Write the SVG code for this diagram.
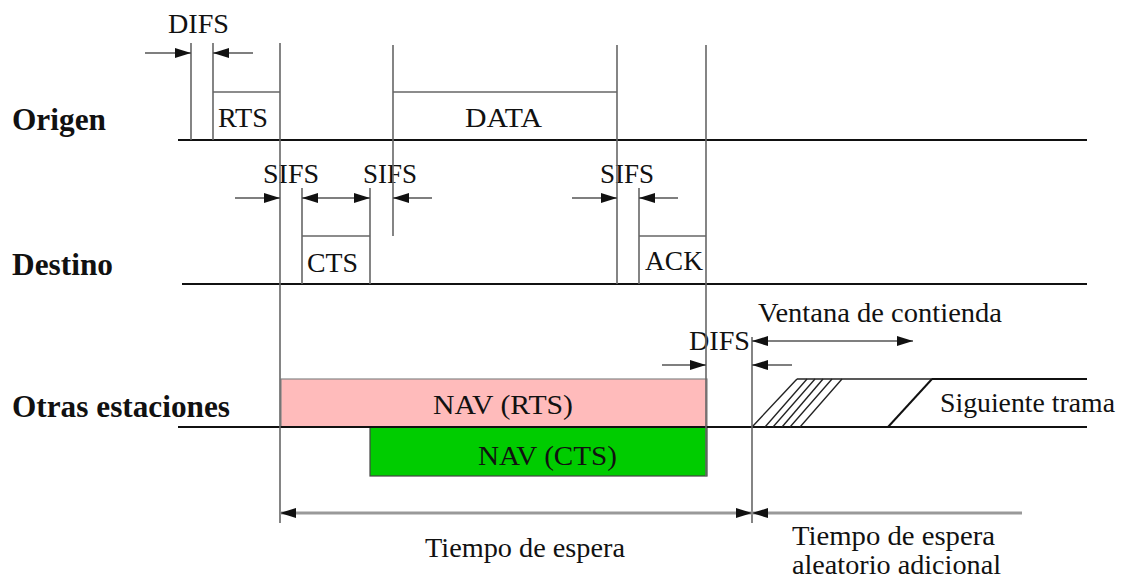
<svg xmlns="http://www.w3.org/2000/svg" width="1123" height="579" viewBox="0 0 1123 579">
<style>
text{font-family:"Liberation Serif","Tinos","Times New Roman","DejaVu Serif",serif;font-size:28px;fill:#111}
.lbl{font-weight:bold;font-size:31px}
.base{stroke:#111;stroke-width:2;fill:none}
.v{stroke:#666;stroke-width:1.6;fill:none}
.arr{stroke:#555;stroke-width:1.6;fill:none}
.big{stroke:#999;stroke-width:3;fill:none}
.diag{stroke:#222;stroke-width:1.4;fill:none}
</style>
<defs>
<marker id="ah" markerUnits="userSpaceOnUse" markerWidth="16" markerHeight="10" refX="16" refY="5" orient="auto-start-reverse">
<path d="M0,0 L16,5 L0,10 z" fill="#111"/>
</marker>
</defs>
<rect width="1123" height="579" fill="#fff"/>

<g id="labels">
<text class="lbl" x="12" y="130" textLength="94" lengthAdjust="spacingAndGlyphs">Origen</text>
<text class="lbl" x="12" y="275" textLength="101" lengthAdjust="spacingAndGlyphs">Destino</text>
<text class="lbl" x="12" y="417" textLength="218" lengthAdjust="spacingAndGlyphs">Otras estaciones</text>
</g>

<g id="origen">
<line class="base" x1="178" y1="140" x2="1087" y2="140"/>
<line class="v" x1="191" y1="43" x2="191" y2="140"/>
<line class="v" x1="213" y1="43" x2="213" y2="140"/>
<g id="rts">
<line class="v" x1="213" y1="92" x2="280" y2="92"/>
<text x="218" y="127" textLength="50" lengthAdjust="spacingAndGlyphs">RTS</text>
</g>
<g id="data">
<line class="v" x1="393" y1="92" x2="617" y2="92"/>
<text x="465" y="127" textLength="77" lengthAdjust="spacingAndGlyphs">DATA</text>
</g>
<text x="168" y="33" textLength="61" lengthAdjust="spacingAndGlyphs">DIFS</text>
</g>

<g id="destino">
<line class="base" x1="182" y1="284" x2="1087" y2="284"/>
<g id="cts">
<line class="v" x1="302" y1="188" x2="302" y2="284"/>
<line class="v" x1="370" y1="188" x2="370" y2="284"/>
<line class="v" x1="302" y1="236" x2="370" y2="236"/>
<text x="307" y="272" textLength="51" lengthAdjust="spacingAndGlyphs">CTS</text>
</g>
<g id="ack">
<line class="v" x1="639" y1="188" x2="639" y2="284"/>
<line class="v" x1="639" y1="236" x2="706" y2="236"/>
<text x="645" y="270" textLength="58" lengthAdjust="spacingAndGlyphs">ACK</text>
</g>
<text x="263" y="183" textLength="56" lengthAdjust="spacingAndGlyphs">SIFS</text>
<text x="363" y="183" textLength="54" lengthAdjust="spacingAndGlyphs">SIFS</text>
<text x="600" y="183" textLength="54" lengthAdjust="spacingAndGlyphs">SIFS</text>
</g>

<g id="otras">
<g id="nav-rts">
<rect x="281" y="379" width="426" height="48" fill="#ffbbbb" stroke="#888" stroke-width="1.2"/>
<text x="433" y="414" textLength="140" lengthAdjust="spacingAndGlyphs">NAV (RTS)</text>
</g>
<g id="nav-cts">
<rect x="370" y="427" width="337" height="49" fill="#00cc00" stroke="#444" stroke-width="1.2"/>
<text x="478" y="465" textLength="139" lengthAdjust="spacingAndGlyphs">NAV (CTS)</text>
</g>
<line class="base" x1="178" y1="427" x2="1087" y2="427"/>
<g id="ventana">
<line class="diag" x1="797" y1="379" x2="1087" y2="379"/>
<line class="base" x1="932" y1="379" x2="1087" y2="379"/>
<line class="diag" x1="752" y1="427" x2="797" y2="379"/>
<line class="diag" x1="765" y1="427" x2="807" y2="379"/>
<line class="diag" x1="773" y1="427" x2="815" y2="379"/>
<line class="diag" x1="782" y1="427" x2="823" y2="379"/>
<line class="diag" x1="790" y1="427" x2="832" y2="379"/>
<line class="diag" x1="800" y1="427" x2="842" y2="379"/>
<line class="base" x1="888" y1="427" x2="932" y2="379"/>
<text x="940" y="412" textLength="175" lengthAdjust="spacingAndGlyphs">Siguiente trama</text>
</g>
<text x="758" y="322" textLength="244" lengthAdjust="spacingAndGlyphs">Ventana de contienda</text>
<text x="689" y="350" textLength="61" lengthAdjust="spacingAndGlyphs">DIFS</text>
<text x="425" y="557" textLength="200" lengthAdjust="spacingAndGlyphs">Tiempo de espera</text>
<text x="792" y="545" textLength="203" lengthAdjust="spacingAndGlyphs">Tiempo de espera</text>
<text x="792" y="574" textLength="209" lengthAdjust="spacingAndGlyphs">aleatorio adicional</text>
</g>

<g id="connectors">
<line class="v" x1="280" y1="43" x2="280" y2="523"/>
<line class="v" x1="393" y1="45" x2="393" y2="236"/>
<line class="v" x1="617" y1="45" x2="617" y2="284"/>
<line class="v" x1="706" y1="45" x2="706" y2="476"/>
<line class="v" x1="752" y1="337" x2="752" y2="523"/>
<line class="arr" x1="145" y1="53" x2="191" y2="53" marker-end="url(#ah)"/>
<line class="arr" x1="253" y1="53" x2="213" y2="53" marker-end="url(#ah)"/>
<line class="arr" x1="235" y1="198" x2="280" y2="198" marker-end="url(#ah)"/>
<line class="arr" x1="302" y1="198" x2="370" y2="198" marker-start="url(#ah)" marker-end="url(#ah)"/>
<line class="arr" x1="432" y1="198" x2="393" y2="198" marker-end="url(#ah)"/>
<line class="arr" x1="572" y1="198" x2="617" y2="198" marker-end="url(#ah)"/>
<line class="arr" x1="678" y1="198" x2="639" y2="198" marker-end="url(#ah)"/>
<line class="arr" x1="662" y1="365" x2="706" y2="365" marker-end="url(#ah)"/>
<line class="arr" x1="792" y1="365" x2="752" y2="365" marker-end="url(#ah)"/>
<line class="arr" x1="752" y1="341" x2="913" y2="341" marker-start="url(#ah)" marker-end="url(#ah)"/>
<line class="big" x1="280" y1="513" x2="752" y2="513" marker-start="url(#ah)" marker-end="url(#ah)"/>
<line class="big" x1="1022" y1="513" x2="752" y2="513" marker-end="url(#ah)"/>
</g>
</svg>
